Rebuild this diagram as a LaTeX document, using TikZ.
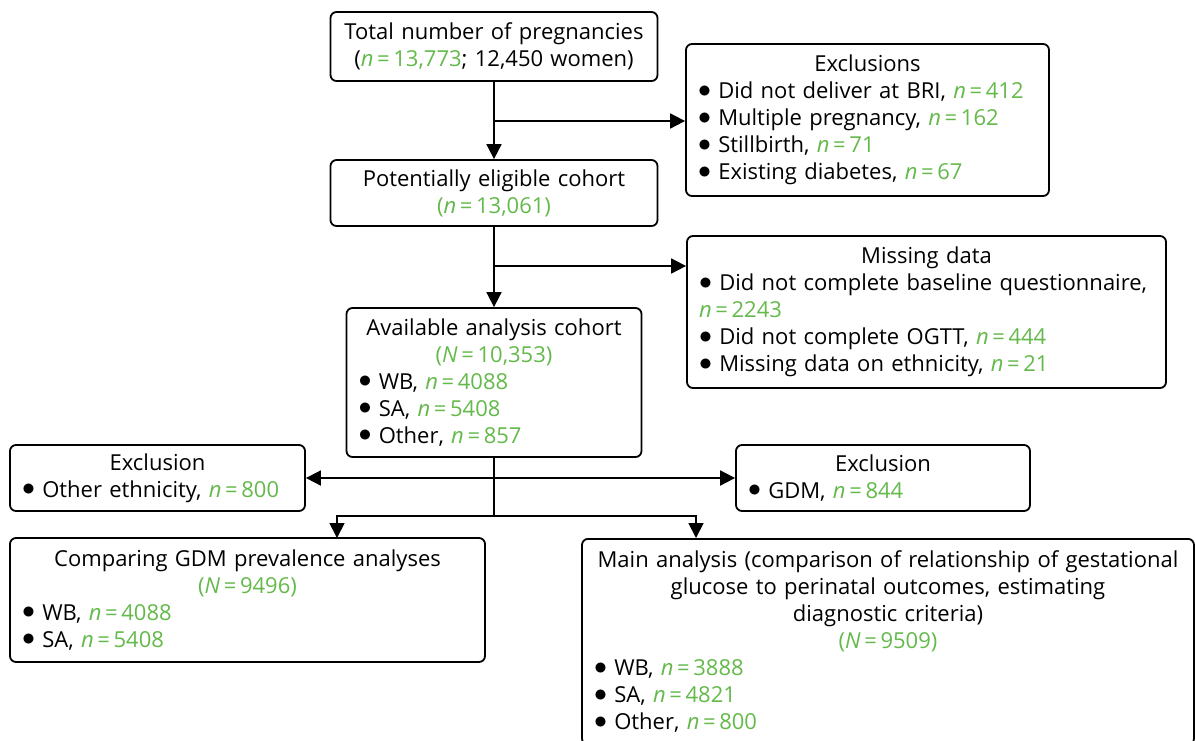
\documentclass[tikz,border=0pt]{standalone}
\usepackage{fontspec}
\setmainfont{Open Sans}
\usetikzlibrary{arrows.meta}
\definecolor{grn}{RGB}{100,185,75}
\newcommand{\nv}[1]{{\color{grn}\textit{n}\,=\,#1}}
\newcommand{\Nv}[1]{{\color{grn}(\textit{N}\,=\,#1)}}
\newcommand{\itm}{\par\setbox0\hbox{\raisebox{1.5pt}{\scalebox{1.25}{$\bullet$}}\ }\hangindent=\wd0\hangafter=1\noindent\box0}

\begin{document}
\begin{tikzpicture}[x=1pt,y=-1pt,
	box/.style={draw,line width=1.8pt,rounded corners=6pt,inner xsep=12pt,inner ysep=0pt,font=\fontsize{22}{27}\selectfont},
	arr/.style={line width=1.8pt,-{Triangle[length=15pt,width=15pt]}}]
	\useasboundingbox (0,0) rectangle (1195,740);
	% boxes
	\node[box,text width=303pt,minimum height=69pt] (tot) at (494,46.5) {\centering Total number of pregnancies\par(\nv{13,773}; 12,450 women)\par};
	\node[box,text width=303pt,minimum height=66pt] (elig) at (494,193) {\centering Potentially eligible cohort\par{\color{grn}(\textit{n}\,=\,13,061)}\par};
	\node[box,text width=339pt,minimum height=152pt] (excl) at (867.5,120) {\centering Exclusions\par\raggedright
		\itm Did not deliver at BRI, \nv{412}
		\itm Multiple pregnancy, \nv{162}
		\itm Stillbirth, \nv{71}
		\itm Existing diabetes, \nv{67}};
	\node[box,text width=455pt,minimum height=152pt] (miss) at (926.5,312) {\centering Missing data\par\raggedright
		\itm \mbox{Did not complete baseline questionnaire,}\\\nv{2243}
		\itm Did not complete OGTT, \nv{444}
		\itm Missing data on ethnicity, \nv{21}};
	\node[box,text width=271pt,minimum height=149pt] (avail) at (494,382.5) {\centering Available analysis cohort\par\Nv{10,353}\par\raggedright
		\itm WB, \nv{4088}
		\itm SA, \nv{5408}
		\itm Other, \nv{857}};
	\node[box,text width=271pt,minimum height=66pt] (exoth) at (157.5,478) {\centering Exclusion\par\raggedright
		\itm Other ethnicity, \nv{800}};
	\node[box,text width=270pt,minimum height=66pt] (exgdm) at (883,478) {\centering Exclusion\par\raggedright
		\itm GDM, \nv{844}};
	\node[box,text width=451pt,minimum height=124pt] (comp) at (247.5,600) {\centering Comparing GDM prevalence analyses\par\Nv{9496}\par\raggedright
		\itm WB, \nv{4088}
		\itm SA, \nv{5408}};
	\node[box,text width=588pt,inner ysep=12pt,anchor=north] (main) at (888,538) {\centering Main analysis (comparison of relationship of gestational\par glucose to perinatal outcomes, estimating\par diagnostic criteria)\par\Nv{9509}\par\raggedright
		\itm WB, \nv{3888}
		\itm SA, \nv{4821}
		\itm Other, \nv{800}};
	% connectors
	\coordinate (b1) at (494,121);
	\coordinate (b2) at (494,266);
	\coordinate (s2) at (494,516);
	\coordinate (cl) at (337,538);
	\coordinate (cr) at (696,538);
	\draw[arr] (tot) -- (elig);
	\draw[arr] (b1) -- (excl.west |- b1);
	\draw[arr] (elig) -- (avail);
	\draw[arr] (b2) -- (miss.west |- b2);
	\draw[line width=1.8pt] (avail) -- (s2);
	\draw[arr] (s2) -| (cl);
	\draw[arr] (s2) -| (cr);
	\draw[arr,{Triangle[length=15pt,width=15pt]}-{Triangle[length=15pt,width=15pt]}] (exoth) -- (exgdm);
\end{tikzpicture}
\end{document}
